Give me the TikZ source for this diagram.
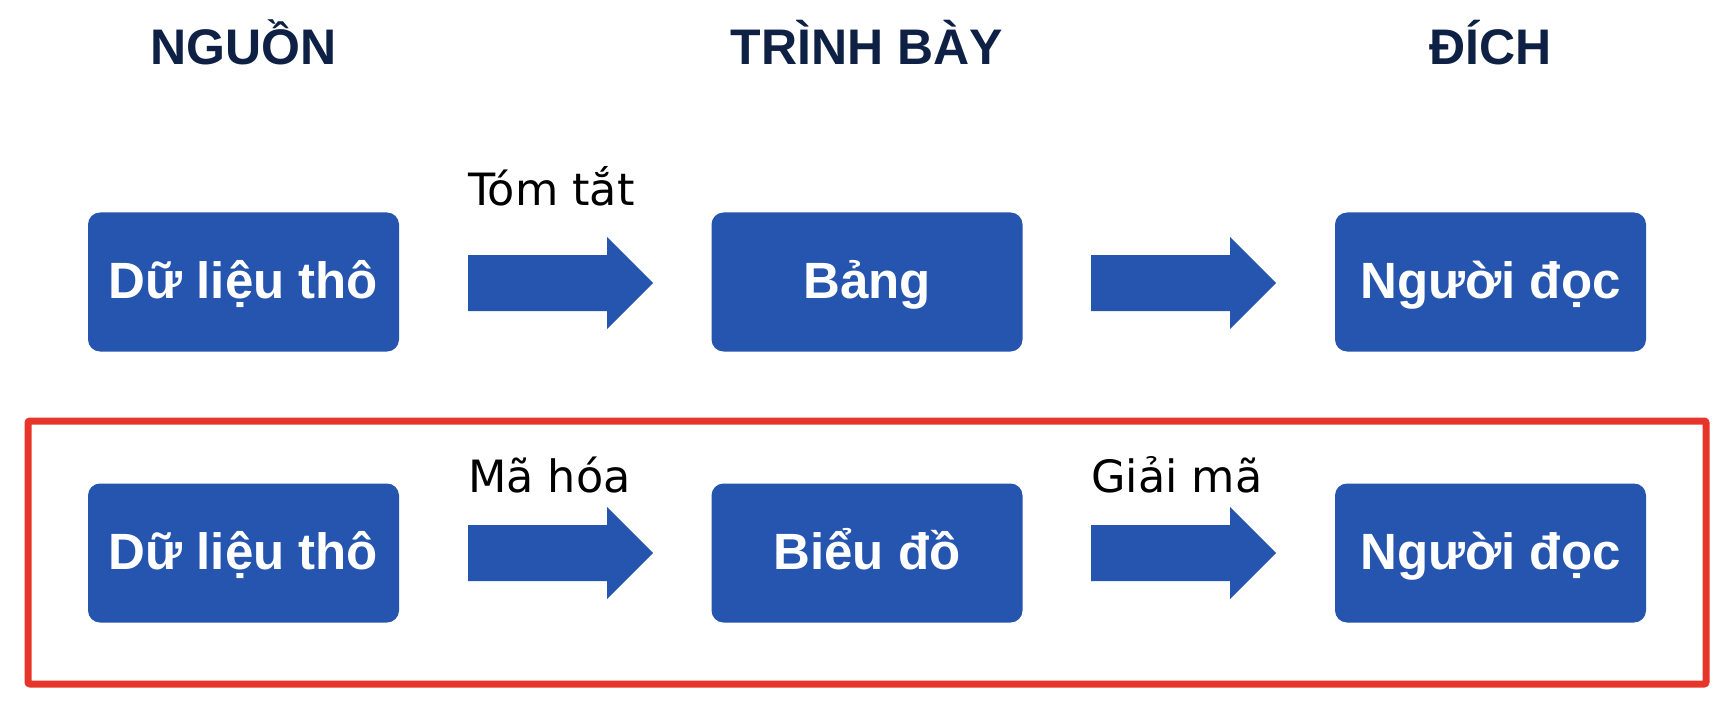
\documentclass[tikz,border=0pt]{standalone}
\usepackage{fontspec}
\setmainfont{Liberation Sans}
\newfontfamily\labelfont{DejaVu Sans}
\definecolor{boxblue}{RGB}{37,85,174}
\definecolor{headnavy}{RGB}{14,33,69}
\definecolor{framered}{RGB}{232,53,42}
\tikzset{
  stagebox/.style={fill=boxblue, rounded corners=12pt, minimum width=311pt, minimum height=139pt,
    inner sep=0pt, text=white, font=\fontsize{51}{60}\selectfont\bfseries,
    text height=32pt, text depth=0pt, align=center},
  header/.style={anchor=base, text=headnavy, inner sep=0pt, font=\fontsize{50}{60}\selectfont\bfseries},
  steplabel/.style={anchor=base west, inner sep=0pt, text=black, font=\fontsize{44.5}{50}\selectfont\labelfont},
  blockarr/.pic={\fill[boxblue] (0,-28) -- (139,-28) -- (139,-46) -- (185,0) -- (139,46) -- (139,28) -- (0,28) -- cycle;}
}
\begin{document}
\begin{tikzpicture}[x=1pt,y=-1pt]
\useasboundingbox (0,0) rectangle (1734,714);
% headers
\node[header] (h1) at (243.5,65) {NGUỒN};
\node[header] (h2) at (867,65) {TRÌNH BÀY};
\node[header] (h3) at (1490.5,65) {ĐÍCH};
% row 1
\node[stagebox] (a1) at (243.5,282) {Dữ liệu thô};
\node[stagebox] (b1) at (867,282) {Bảng};
\node[stagebox] (c1) at (1490.5,282) {Người đọc};
\pic (ar11) at (468,283) {blockarr};
\pic (ar12) at (1091,283) {blockarr};
\node[steplabel] (l11) at (468,205) {Tóm tắt};
% row 2
\node[stagebox] (a2) at (243.5,553) {Dữ liệu thô};
\node[stagebox] (b2) at (867,553) {Biểu đồ};
\node[stagebox] (c2) at (1490.5,553) {Người đọc};
\pic (ar21) at (468,553) {blockarr};
\pic (ar22) at (1091,553) {blockarr};
\node[steplabel] (l21) at (468,492) {Mã hóa};
\node[steplabel] (l22) at (1091,492) {Giải mã};
% red frame
\draw[framered, line width=7pt, rounded corners=2pt] (28,421) rectangle (1706,684);
\end{tikzpicture}
\end{document}
